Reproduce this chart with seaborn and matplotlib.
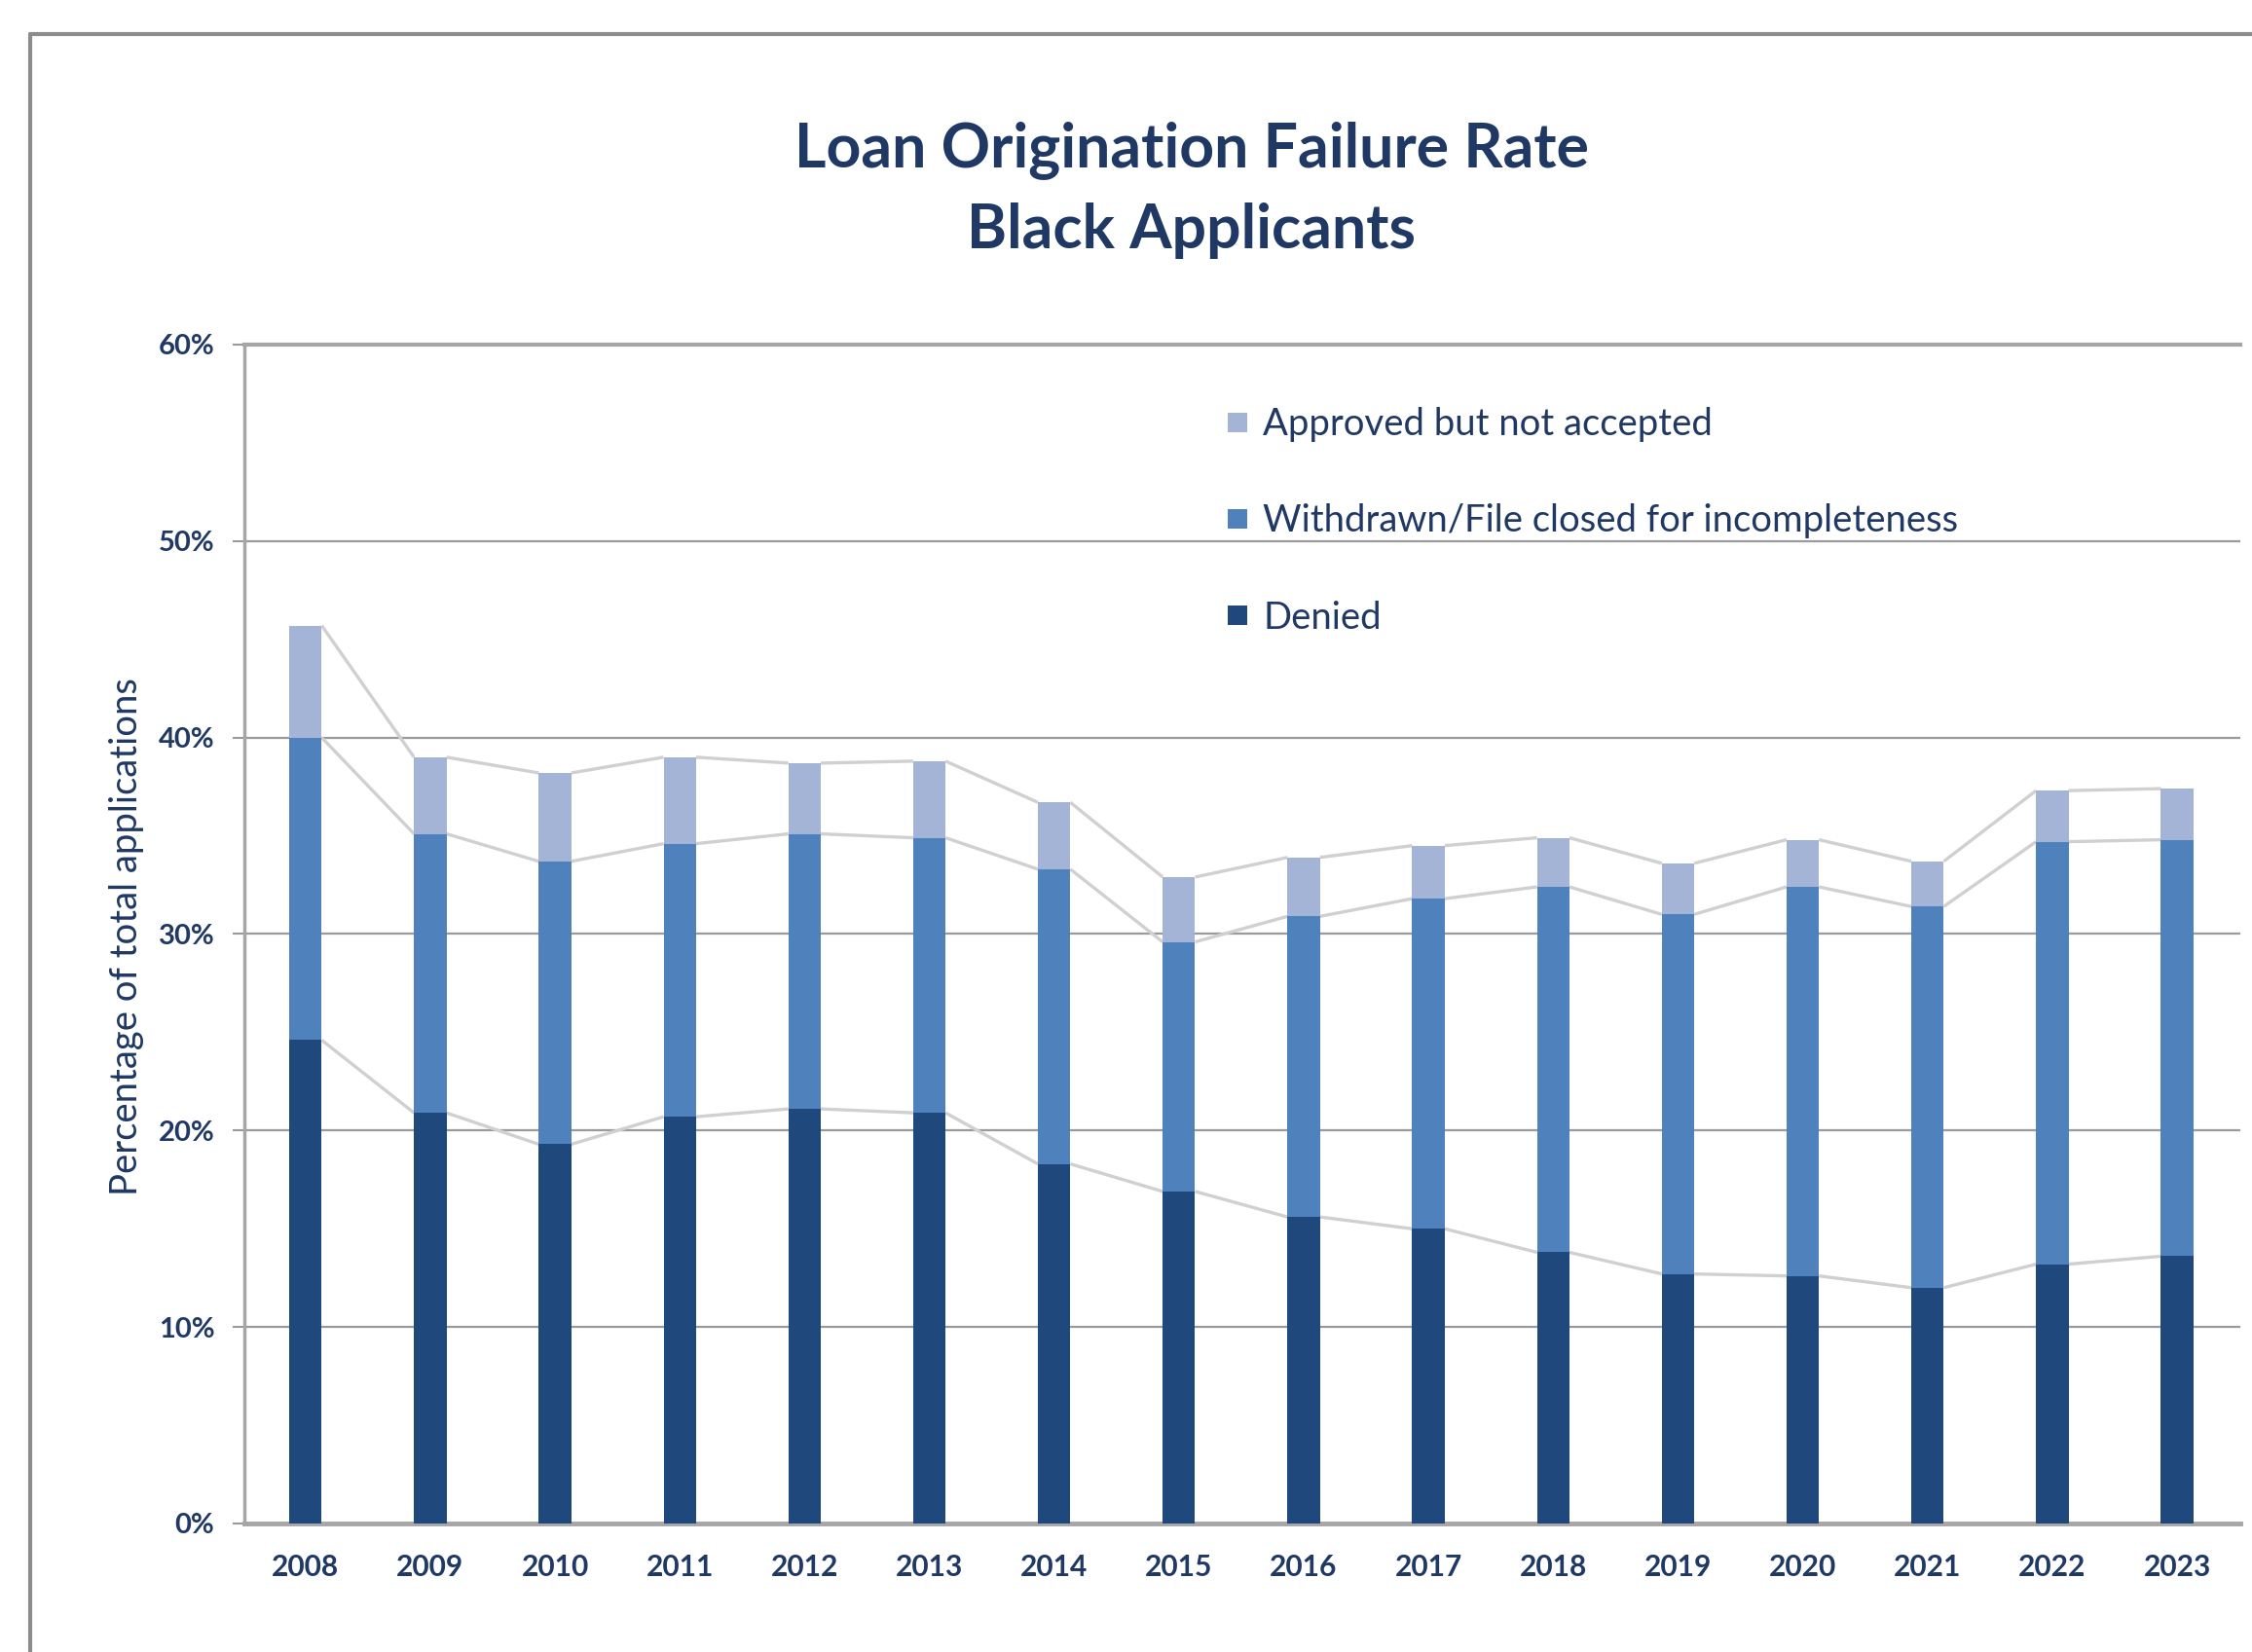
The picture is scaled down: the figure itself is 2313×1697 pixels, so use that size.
import matplotlib
matplotlib.use("Agg")
import matplotlib.pyplot as plt
import seaborn as sns
import pandas as pd
from matplotlib.lines import Line2D

# ---- data (percent of total applications) ----
years = ["2008", "2009", "2010", "2011", "2012", "2013", "2014", "2015",
         "2016", "2017", "2018", "2019", "2020", "2021", "2022", "2023"]
denied = [24.6, 20.9, 19.3, 20.7, 21.1, 20.9, 18.3, 16.9,
          15.6, 15.0, 13.8, 12.7, 12.6, 12.0, 13.2, 13.6]
withdrawn = [15.4, 14.2, 14.4, 13.9, 14.0, 14.0, 15.0, 12.7,
             15.3, 16.8, 18.6, 18.3, 19.8, 19.4, 21.5, 21.2]
approved = [5.7, 3.9, 4.5, 4.4, 3.6, 3.9, 3.4, 3.3,
            3.0, 2.7, 2.5, 2.6, 2.4, 2.3, 2.6, 2.6]
series_labels = ["Approved but not accepted",
                 "Withdrawn/File closed for incompleteness",
                 "Denied"]
y_ticks = [0, 10, 20, 30, 40, 50, 60]

C_DEN = "#1f497d"
C_WD = "#4f81bd"
C_APP = "#a4b4d7"
TXT = "#1f3864"
GRID = "#9a9a9a"
SER = "#d0d0d0"

sns.set_theme(style="white")
plt.rcParams['font.family'] = ['Lato', 'DejaVu Sans']

df = pd.DataFrame({"year": years, "denied": denied,
                   "withdrawn": withdrawn, "approved": approved})
df["cum_w"] = df["denied"] + df["withdrawn"]
df["total"] = df["cum_w"] + df["approved"]

fig = plt.figure(figsize=(23.13, 16.97), dpi=100)
ax = fig.add_axes([0.1085, 0.0778, 0.8865, 0.7136])

W = 0.26
for col, color in [("total", C_APP), ("cum_w", C_WD), ("denied", C_DEN)]:
    sns.barplot(data=df, x="year", y=col, color=color, width=W, ax=ax,
                saturation=1, linewidth=0, zorder=3)

# Excel-style series lines
for col in ["denied", "cum_w", "total"]:
    vals = df[col].values
    for i in range(len(vals) - 1):
        ax.plot([i + W / 2, i + 1 - W / 2], [vals[i], vals[i + 1]],
                color=SER, lw=2.4, zorder=2, solid_capstyle="butt")

ax.set_ylim(0, 60)
ax.set_xlim(-0.49, 15.51)
ax.set_yticks(y_ticks)
ax.set_yticklabels([f"{v}%" for v in y_ticks])
ax.yaxis.grid(True, color=GRID, lw=1.6, zorder=0)
ax.xaxis.grid(False)
ax.set_axisbelow(True)

ax.spines["right"].set_visible(False)
ax.spines["left"].set_color("#a6a6a6")
ax.spines["left"].set_linewidth(2.5)
ax.spines["bottom"].set_color("#a6a6a6")
ax.spines["bottom"].set_linewidth(3.5)
ax.spines["top"].set_color("#a6a6a6")
ax.spines["top"].set_linewidth(3.0)

ax.tick_params(axis="y", which="major", left=True, length=9, width=1.5,
               color=GRID, pad=13, labelsize=21, labelcolor=TXT)
ax.tick_params(axis="x", length=0, pad=22, labelsize=21.5, labelcolor=TXT)
for lab in ax.get_yticklabels() + ax.get_xticklabels():
    lab.set_fontweight("bold")

ax.set_xlabel("")
ax.set_ylabel("Percentage of total applications", fontsize=27.5, color=TXT,
              va="center")
ax.yaxis.set_label_coords(-0.059, 0.498)

# Title
fig.text(0.529, 1 - 171 / 1697, "Loan Origination Failure Rate", ha="center",
         va="baseline", fontsize=45, fontweight="bold", color=TXT)
fig.text(0.529, 1 - 255 / 1697, "Black Applicants", ha="center",
         va="baseline", fontsize=45, fontweight="bold", color=TXT)

# Legend
handles = [Line2D([], [], marker="s", ls="", markersize=14,
                  markerfacecolor=c, markeredgewidth=0)
           for c in [C_APP, C_WD, C_DEN]]
leg = fig.legend(handles, series_labels, loc="upper left",
                 bbox_to_anchor=(1257 / 2313, 1 - 418 / 1697),
                 frameon=False, fontsize=27.5, labelcolor=TXT,
                 handlelength=0.75, handletextpad=0.3, labelspacing=1.66,
                 borderpad=0, borderaxespad=0)

# outer frame (top and left edges)
fig.add_artist(Line2D([31 / 2313, 31 / 2313], [0, 1 - 35 / 1697],
                      transform=fig.transFigure, color="#8c8c8c", lw=3))
fig.add_artist(Line2D([31 / 2313, 1], [1 - 35 / 1697, 1 - 35 / 1697],
                      transform=fig.transFigure, color="#8c8c8c", lw=3))

fig.savefig("out.png", dpi=100)
